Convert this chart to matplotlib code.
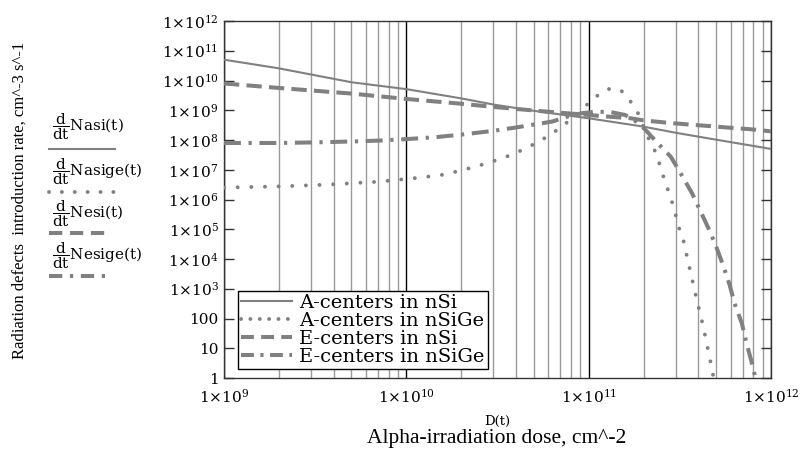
import numpy as np
import matplotlib
matplotlib.use('Agg')
import matplotlib.pyplot as plt
from matplotlib.lines import Line2D
from matplotlib.ticker import FixedLocator, FixedFormatter, LogLocator, NullFormatter

plt.rcParams['font.family'] = 'DejaVu Serif'
plt.rcParams['mathtext.fontset'] = 'dejavuserif'

# values, as log10(dose) and log10(rate)
a_si_logd = [9.0, 9.3, 9.7, 10.0, 10.3, 10.48, 10.7, 11.0, 11.3, 11.48, 11.7, 12.0]
a_si_logr = [10.70, 10.41, 9.94, 9.71, 9.40, 9.19, 8.98, 8.73, 8.45, 8.24, 8.01, 7.70]

a_sige_logd = [9.0, 9.3, 9.57, 9.85, 10.05, 10.19, 10.31, 10.45, 10.59, 10.72, 10.79,
               10.86, 10.93, 11.0, 11.04, 11.08, 11.13, 11.18, 11.21, 11.24, 11.27,
               11.30, 11.34, 11.37, 11.41, 11.44, 11.47, 11.49, 11.52, 11.54, 11.56,
               11.58, 11.60, 11.62, 11.64, 11.657, 11.67, 11.685]
a_sige_logr = [6.40, 6.44, 6.50, 6.60, 6.72, 6.82, 6.99, 7.23, 7.53, 7.92, 8.18,
               8.48, 8.85, 9.24, 9.45, 9.65, 9.75, 9.65, 9.45, 9.21, 8.91,
               8.45, 7.90, 7.56, 6.77, 6.23, 5.68, 5.14, 4.62, 4.06, 3.52,
               2.98, 2.45, 1.95, 1.39, 0.88, 0.50, 0.0]

e_si_logd = [9.0, 9.3, 9.7, 10.0, 10.3, 10.48, 10.74, 11.0, 11.1, 11.23, 11.3,
             11.45, 11.57, 11.66, 11.78, 11.89, 12.0]
e_si_logr = [9.90, 9.75, 9.56, 9.38, 9.22, 9.11, 8.97, 8.84, 8.79, 8.73, 8.66,
             8.57, 8.51, 8.47, 8.41, 8.36, 8.29]

e_sige_logd = [9.0, 9.3, 9.5, 9.7, 9.85, 10.0, 10.15, 10.3, 10.48, 10.6, 10.7,
               10.8, 10.88, 10.96, 11.04, 11.12, 11.2, 11.26, 11.31, 11.37, 11.45,
               11.51, 11.567, 11.61, 11.657, 11.70, 11.74, 11.773, 11.80, 11.84,
               11.865, 11.893, 11.915]
e_sige_logr = [7.90, 7.90, 7.92, 7.95, 7.98, 8.03, 8.09, 8.18, 8.31, 8.42, 8.52,
               8.62, 8.78, 8.90, 8.95, 8.94, 8.84, 8.62, 8.35, 7.95, 7.44,
               6.82, 6.21, 5.65, 5.03, 4.41, 3.74, 3.13, 2.51, 1.84,
               1.19, 0.55, 0.0]

series_names = ['A-centers in nSi', 'A-centers in nSiGe', 'E-centers in nSi', 'E-centers in nSiGe']
trace_names = [r'$\dfrac{\mathrm{d}}{\mathrm{dt}}\mathrm{Nasi(t)}$',
               r'$\dfrac{\mathrm{d}}{\mathrm{dt}}\mathrm{Nasige(t)}$',
               r'$\dfrac{\mathrm{d}}{\mathrm{dt}}\mathrm{Nesi(t)}$',
               r'$\dfrac{\mathrm{d}}{\mathrm{dt}}\mathrm{Nesige(t)}$']

y_ticks = [1, 10, 100, 1e3, 1e4, 1e5, 1e6, 1e7, 1e8, 1e9, 1e10, 1e11, 1e12]
y_tick_labels = ['1', '10', '100'] + [r'$1{\times}10^{%d}$' % n for n in range(3, 13)]
x_ticks = [1e9, 1e10, 1e11, 1e12]
x_tick_labels = [r'$1{\times}10^{%d}$' % n for n in range(9, 13)]

gray = '#808080'
styles = [
    dict(ls='-', lw=1.5),
    dict(ls=(0, (0.01, 3.5)), lw=2.8, dash_capstyle='round'),
    dict(ls=(0, (3.8, 1.8)), lw=2.9, dash_capstyle='butt'),
    dict(ls=(0, (4.2, 1.9, 0.8, 1.9)), lw=2.9, dash_capstyle='butt'),
]
legend_styles = [
    dict(ls='-', lw=1.5),
    dict(ls=(0, (0.01, 2.4)), lw=2.8, dash_capstyle='round'),
    dict(ls=(0, (3.2, 1.8)), lw=2.9, dash_capstyle='butt'),
    dict(ls=(0, (3.2, 1.6, 0.8, 1.6)), lw=2.9, dash_capstyle='butt'),
]
trace_styles = [
    dict(ls='-', lw=1.5),
    dict(ls=(0, (0.01, 3.3)), lw=2.8, dash_capstyle='round'),
    dict(ls=(0, (3.3, 1.9)), lw=2.9, dash_capstyle='butt'),
    dict(ls=(0, (3.3, 1.9, 0.8, 1.9)), lw=2.9, dash_capstyle='butt'),
]

fig = plt.figure(figsize=(8.03, 4.5), dpi=100)
ax = fig.add_axes([224 / 803, 72 / 450, 547 / 803, 357 / 450])

data = [(a_si_logd, a_si_logr), (a_sige_logd, a_sige_logr),
        (e_si_logd, e_si_logr), (e_sige_logd, e_sige_logr)]
for (lx, ly), st in zip(data, styles):
    ax.plot(10 ** np.array(lx), 10 ** np.array(ly), color=gray, zorder=3, **st)

ax.set_xscale('log')
ax.set_yscale('log')
ax.set_xlim(1e9, 1e12)
ax.set_ylim(1, 1e12)

# vertical grid only: light minor lines, black decade lines
ax.xaxis.set_major_locator(FixedLocator(x_ticks))
ax.xaxis.set_major_formatter(FixedFormatter(x_tick_labels))
ax.xaxis.set_minor_locator(LogLocator(base=10, subs=np.arange(2, 10), numticks=20))
ax.xaxis.set_minor_formatter(NullFormatter())
ax.grid(True, axis='x', which='minor', color='#9a9a9a', lw=1.0)
ax.grid(True, axis='x', which='major', color='black', lw=1.0)
ax.tick_params(axis='x', which='both', length=0, pad=7, labelsize=11)

ax.yaxis.set_major_locator(FixedLocator(y_ticks))
ax.yaxis.set_major_formatter(FixedFormatter(y_tick_labels))
ax.yaxis.set_minor_locator(FixedLocator([]))
ax.tick_params(axis='y', which='major', direction='in', length=7.5, width=1,
               color='#333333', left=True, right=True, pad=4, labelsize=11)

for sp in ax.spines.values():
    sp.set_color('#333333')
    sp.set_linewidth(1)

handles = [Line2D([], [], color=gray, **st) for st in legend_styles]
leg = ax.legend(handles, series_names, loc='lower left', bbox_to_anchor=(0.026, 0.025),
                borderaxespad=0, fancybox=False, framealpha=1, edgecolor='black',
                prop={'family': 'DejaVu Serif', 'size': 14}, handlelength=2.6,
                handletextpad=0.4, labelspacing=0.0, borderpad=0.15)
leg.get_frame().set_linewidth(1)
leg.set_zorder(5)

ax.set_xlabel('D(t)', fontsize=9.5, labelpad=7)

# Mathcad-style trace labels at the left
text_y = [127, 172, 214, 256]
line_y = [149, 192, 233, 276]
line_end = [115, 117, 109, 109]
for name, ty, ly, le, st in zip(trace_names, text_y, line_y, line_end, trace_styles):
    fig.text(52 / 803, 1 - ty / 450, name, fontsize=11, va='center', ha='left')
    fig.add_artist(Line2D([49 / 803, le / 803], [1 - ly / 450, 1 - ly / 450],
                          transform=fig.transFigure, color=gray, **st))

fig.text(20 / 803, 1 - 200 / 450, 'Radiation defects  introduction rate, cm^-3 s^-1',
         rotation=90, ha='center', va='center', fontsize=12, family='Liberation Serif')
fig.text(497 / 803, 1 - 439 / 450, 'Alpha-irradiation dose, cm^-2',
         ha='center', va='center', fontsize=15.5, family='Liberation Serif')

fig.savefig('out.png', dpi=100)
